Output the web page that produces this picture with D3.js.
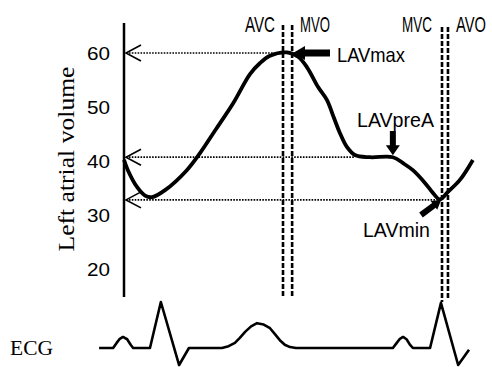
<!DOCTYPE html>
<html>
<head>
<meta charset="utf-8">
<script src="https://cdn.jsdelivr.net/npm/d3@7"></script>
<style>
  body { margin: 0; background: #fff; }
  svg { display: block; }
</style>
</head>
<body>
<div id="chart"></div>
<script>
// Left atrial volume curve (time in arbitrary units, volume in mL)
const volTime = [0, 1.1, 3.7, 6.0, 8.0, 11.7, 17.9, 21.7, 25.9, 31.1, 35.9, 38.7, 41.6, 46.4, 49.6, 52.1, 55.3, 57.8, 59.8, 61.5, 63.5, 65.8, 70.1, 76.6, 79.5, 82.3, 85.8, 88.0, 90.0, 92.3, 95.7, 99.4];
const volValue = [40.2, 38.3, 35.2, 33.6, 33.3, 34.6, 38.3, 41.5, 45.6, 50.7, 56.1, 58.1, 59.5, 60.1, 59.3, 57.4, 53.7, 51.3, 48, 45.2, 42.6, 41.1, 40.7, 40.7, 39.6, 38.3, 35.9, 34.1, 32.9, 34.3, 36.5, 40.2];

// ECG trace (mV)
const ecgTime = [-7.1, -3.1, -2.2, -1.2, -0.3, 0.9, 1.9, 2.6, 7.4, 10.5, 15.7, 18.5, 27.9, 29.8, 31.6, 33.0, 34.5, 36.2, 37.9, 39.8, 41.6, 43.0, 44.4, 45.8, 47.3, 49.0, 76.6, 77.6, 78.6, 79.5, 80.5, 81.4, 82.3, 87.2, 90.3, 95.2, 98.3];
const ecgValue = [0, 0, 0.1, 0.2, 0.24, 0.19, 0.07, 0, 0, 1.0, -0.37, 0, 0, 0.04, 0.11, 0.22, 0.35, 0.47, 0.54, 0.51, 0.43, 0.3, 0.17, 0.07, 0.02, 0, 0, 0.1, 0.2, 0.24, 0.19, 0.08, 0, 0, 0.98, -0.37, -0.04];

const yTicks = [20, 30, 40, 50, 60];

// valve events
const eventNames = ["AVC", "MVO", "MVC", "AVO"];
const eventTimes = [45.3, 47.9, 90.6, 92.3];

// volume reference levels
const levelNames = ["LAVmax", "LAVpreA", "LAVmin"];
const levelValues = [60, 40.7, 32.8];
const levelTimes = [48.0, 65.8, 89.5];

const width = 492, height = 367;

const svg = d3.select("#chart").append("svg")
  .attr("width", width)
  .attr("height", height);

const x = d3.scaleLinear().domain([0, 100]).range([124, 475]);
const y = d3.scaleLinear().domain([20, 60]).range([269, 53]);
const yEcg = d3.scaleLinear().domain([-0.5, 1]).range([371, 302]);

const sans = "'Liberation Sans', Arial, sans-serif";
const serif = "'Liberation Serif', 'Times New Roman', serif";

// y axis line
svg.append("line")
  .attr("x1", 124).attr("x2", 124)
  .attr("y1", 23).attr("y2", 297)
  .attr("stroke", "#000").attr("stroke-width", 2.5);

// tick labels
svg.selectAll(".tick-label")
  .data(yTicks)
  .join("text")
  .attr("class", "tick-label")
  .attr("x", 110)
  .attr("y", (d) => y(d))
  .attr("dy", "0.36em")
  .attr("text-anchor", "end")
  .attr("font-family", sans)
  .attr("font-size", 19)
  .attr("textLength", 23)
  .attr("lengthAdjust", "spacingAndGlyphs")
  .text((d) => d);

// y axis title
svg.append("text")
  .attr("transform", "translate(74,159) rotate(-90)")
  .attr("text-anchor", "middle")
  .attr("font-family", serif)
  .attr("font-size", 24)
  .attr("textLength", 185)
  .attr("lengthAdjust", "spacingAndGlyphs")
  .text("Left atrial volume");

// ECG label
svg.append("text")
  .attr("x", 10).attr("y", 355)
  .attr("font-family", serif)
  .attr("font-size", 21)
  .attr("textLength", 43)
  .attr("lengthAdjust", "spacingAndGlyphs")
  .text("ECG");

// dotted level lines with open arrowheads at the axis
levelValues.forEach((v, i) => {
  const yy = y(v);
  svg.append("line")
    .attr("x1", 126).attr("x2", x(levelTimes[i]))
    .attr("y1", yy).attr("y2", yy)
    .attr("stroke", "#000").attr("stroke-width", 1.7)
    .attr("stroke-dasharray", "1.6,1.3");
  svg.append("path")
    .attr("d", `M141,${yy - 8}L126,${yy}L141,${yy + 8}`)
    .attr("fill", "none")
    .attr("stroke", "#000").attr("stroke-width", 1.6);
});

// valve event dashed lines
const eventTop = [25, 25, 27, 27];
const eventBottom = [298, 298, 302, 300];
eventTimes.forEach((t, i) => {
  svg.append("line")
    .attr("x1", x(t)).attr("x2", x(t))
    .attr("y1", eventTop[i]).attr("y2", eventBottom[i])
    .attr("stroke", "#000").attr("stroke-width", 2.6)
    .attr("stroke-dasharray", "5,2");
});

// valve event labels (condensed by horizontal scaling)
const eventLabelX = [245, 300, 402, 456];
eventNames.forEach((name, i) => {
  const t = svg.append("text")
    .attr("font-family", sans)
    .attr("font-size", 22)
    .text(name);
  const w = t.node().getComputedTextLength();
  t.attr("transform", `translate(${eventLabelX[i]},32) scale(${30 / w},1)`);
});

// volume curve
const volLine = d3.line()
  .x((d) => x(d[0]))
  .y((d) => y(d[1]))
  .curve(d3.curveCatmullRom.alpha(0.5));

svg.append("path")
  .datum(volTime.map((t, i) => [t, volValue[i]]))
  .attr("d", volLine)
  .attr("fill", "none")
  .attr("stroke", "#000")
  .attr("stroke-width", 3.8)
  .attr("stroke-linejoin", "round");

// ECG trace
const ecgLine = d3.line()
  .x((d) => x(d[0]))
  .y((d) => yEcg(d[1]));

svg.append("path")
  .datum(ecgTime.map((t, i) => [t, ecgValue[i]]))
  .attr("d", ecgLine)
  .attr("fill", "none")
  .attr("stroke", "#000")
  .attr("stroke-width", 2.6)
  .attr("stroke-linejoin", "round");

// thick annotation arrows
function thickArrow(x1, y1, x2, y2, shaft, headW, headL) {
  const ang = Math.atan2(y2 - y1, x2 - x1);
  const len = Math.hypot(x2 - x1, y2 - y1);
  const g = svg.append("g")
    .attr("transform", `translate(${x1},${y1}) rotate(${(ang * 180) / Math.PI})`);
  g.append("path")
    .attr("d", `M0,${-shaft / 2}L${len - headL},${-shaft / 2}L${len - headL},${-headW / 2}L${len},0L${len - headL},${headW / 2}L${len - headL},${shaft / 2}L0,${shaft / 2}Z`)
    .attr("fill", "#000");
}

const maxY = y(levelValues[0]);
thickArrow(330, maxY, x(levelTimes[0]) + 0.5, maxY, 7, 14, 12);
thickArrow(x(76.6), 131, x(76.6), y(levelValues[1]) - 2, 6, 14, 10);
thickArrow(421, 215, x(levelTimes[2]) + 3, y(levelValues[2]), 6, 11, 9);

// level labels
const levelLabelX = [337, 357, 363];
const levelLabelY = [62, 127, 237];
const levelLabelW = [68, 77, 67];
levelNames.forEach((name, i) => {
  svg.append("text")
    .attr("x", levelLabelX[i]).attr("y", levelLabelY[i])
    .attr("font-family", sans)
    .attr("font-size", 21)
    .attr("textLength", levelLabelW[i])
    .attr("lengthAdjust", "spacingAndGlyphs")
    .text(name);
});
</script>
</body>
</html>
